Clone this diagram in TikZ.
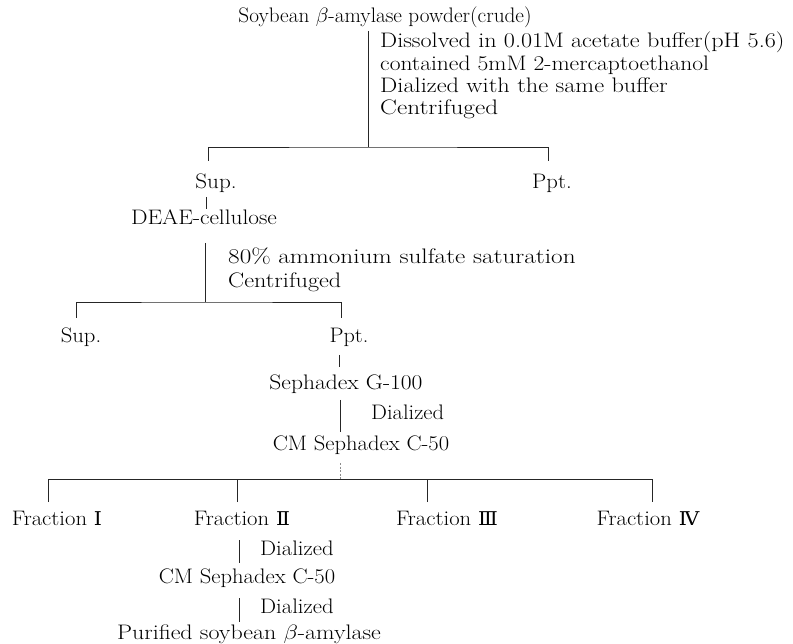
\documentclass[tikz,border=0pt]{standalone}
\usepackage{fontspec}
\usepackage{graphicx}
\newfontfamily\romfont{DejaVu Serif}
\newcommand\sx[2]{\scalebox{#1}[1]{#2}}
\newcommand\rn[1]{{\fontsize{19}{23}\romfont #1}}
\tikzset{
  txt/.style={inner sep=0pt, anchor=base, font=\fontsize{21}{25}\selectfont},
  ltxt/.style={txt, anchor=base west},
  ln/.style={line width=0.9pt, draw=black!85},
  faint/.style={line width=0.8pt, draw=black!45, dash pattern=on 2pt off 1.5pt},
}
\begin{document}
\begin{tikzpicture}[x=1pt,y=-1pt]
\useasboundingbox (0,0) rectangle (793,644);
% texts
\node[txt] (title) at (385,23) {\sx{1.01}{Soybean $\beta$-amylase powder(crude)}};
\node[ltxt] (i1) at (380,48) {\sx{1.15}{Dissolved in 0.01M acetate buffer(pH 5.6)}};
\node[ltxt] (i2) at (380,70.5) {\sx{1.12}{contained 5mM 2-mercaptoethanol}};
\node[ltxt] (i3) at (380,93) {\sx{1.16}{Dialized with the same buffer}};
\node[ltxt] (i4) at (380,115) {\sx{1.2}{Centrifuged}};
\node[txt] (sup1) at (216,189) {\sx{1.1}{Sup.}};
\node[txt] (ppt1) at (552,189) {\sx{1.08}{Ppt.}};
\node[txt] (deae) at (204,225) {\sx{1.11}{DEAE-cellulose}};
\node[ltxt] (a1) at (228,264) {\sx{1.2}{80\% ammonium sulfate saturation}};
\node[ltxt] (a2) at (228,288) {\sx{1.15}{Centrifuged}};
\node[txt] (sup2) at (81,343) {\sx{1.08}{Sup.}};
\node[txt] (ppt2) at (349,343) {\sx{1.06}{Ppt.}};
\node[txt] (g100) at (346,390) {\sx{1.12}{Sephadex G-100}};
\node[ltxt] (d1) at (371,420) {\sx{1.07}{Dialized}};
\node[txt] (cm1) at (361,450) {\sx{1.075}{CM Sephadex C-50}};
\node[txt] (fr1) at (57,525) {\sx{1.08}{Fraction \rn{Ⅰ}}};
\node[txt] (fr2) at (242,525) {\sx{1.08}{Fraction \rn{Ⅱ}}};
\node[txt] (fr3) at (447,525) {\sx{1.08}{Fraction \rn{Ⅲ}}};
\node[txt] (fr4) at (648,525) {\sx{1.08}{Fraction \rn{Ⅳ}}};
\node[ltxt] (d2) at (260,555) {\sx{1.08}{Dialized}};
\node[txt] (cm2) at (247,583) {\sx{1.075}{CM Sephadex C-50}};
\node[ltxt] (d3) at (260,613) {\sx{1.08}{Dialized}};
\node[txt] (pur) at (249,639) {\sx{1.14}{Purified soybean $\beta$-amylase}};
% junctions
\coordinate (j1) at (368,147);
\coordinate (j2) at (205,302);
\coordinate (j3) at (340,479);
\coordinate (t1a) at ([xshift=-8pt,yshift=28pt]sup1.base);
\coordinate (t1b) at ([xshift=-4pt,yshift=28pt]ppt1.base);
\coordinate (t2a) at ([xshift=-5pt,yshift=25pt]sup2.base);
\coordinate (t2b) at ([xshift=-8pt,yshift=25pt]ppt2.base);
\coordinate (f1t) at ([xshift=-9pt,yshift=23pt]fr1.base);
\coordinate (f2t) at ([xshift=-5pt,yshift=23pt]fr2.base);
\coordinate (f3t) at ([xshift=-20pt,yshift=23pt]fr3.base);
\coordinate (f4t) at ([xshift=4pt,yshift=23pt]fr4.base);
% connectors
\draw[ln] ([xshift=-17pt,yshift=-8pt]title.base) -- (j1);
\draw[ln] (t1a) |- (j1) -| (t1b);
\draw[ln] ([xshift=-10pt,yshift=-8pt]sup1.base) -- ([xshift=2pt,yshift=16pt]deae.base);
\draw[ln] ([xshift=1pt,yshift=-18pt]deae.base) -- (j2);
\draw[ln] (t2a) |- (j2) -| (t2b);
\draw[ln] ([xshift=-10pt,yshift=-12pt]ppt2.base) -- ([xshift=-7pt,yshift=23pt]g100.base);
\draw[ln] ([xshift=-6pt,yshift=-10pt]g100.base) -- ([xshift=-21pt,yshift=18pt]cm1.base);
\draw[faint] ([xshift=-21pt,yshift=-13pt]cm1.base) -- (j3);
\draw[ln] (f1t) -- (f1t |- j3) -- (f4t |- j3) -- (f4t);
\draw[ln] (f2t) -- (f2t |- j3);
\draw[ln] (f3t) -- (f3t |- j3);
\draw[ln] ([xshift=-3pt,yshift=-15pt]fr2.base) -- ([xshift=-8pt,yshift=20pt]cm2.base);
\draw[ln] ([xshift=-8pt,yshift=-15pt]cm2.base) -- ([xshift=-10pt,yshift=17pt]pur.base);
\end{tikzpicture}
\end{document}
